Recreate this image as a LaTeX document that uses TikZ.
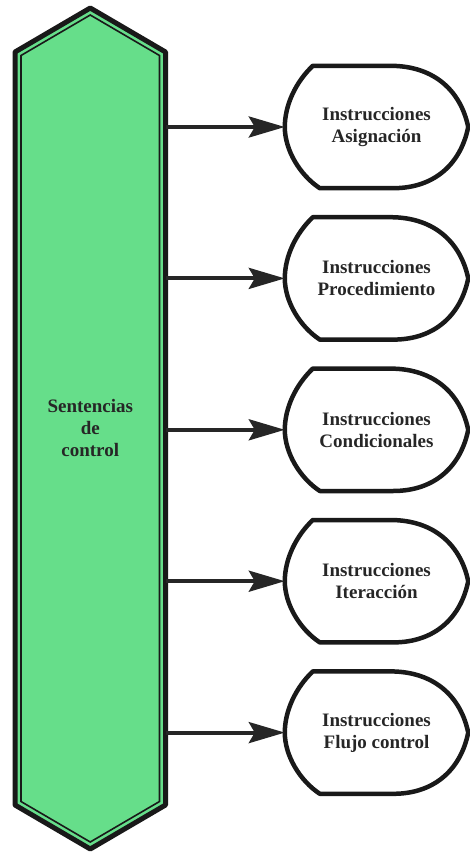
\documentclass[tikz,border=0pt]{standalone}
\usepackage{fontspec}
\setmainfont{Liberation Serif}
\usepackage{tikz}
\usetikzlibrary{positioning,arrows.meta}
\definecolor{pillargreen}{RGB}{102,222,138}

\begin{document}
\begin{tikzpicture}[x=1pt, y=-1pt,
textnode/.style={align=center, font=\fontsize{19}{22}\selectfont\bfseries, text=black!85},
instnode/.style={textnode, minimum width=183pt, minimum height=122pt, inner sep=0pt},
outline/.style={draw=black!90, line width=4.5pt, line join=round},
flow/.style={-{Stealth[length=36pt, width=21pt, inset=6pt]}, draw=black!85, line width=4pt}
]
    \useasboundingbox (0,0) rectangle (469,853);

    %Pillar
    \draw[fill=pillargreen, draw=black!90, line width=5pt, line join=round]
        (15,52) -- (90.25,8) -- (165.5,52) -- (165.5,805) -- (90.25,849) -- (15,805) -- cycle;
    \draw[draw=black!90, line width=1.6pt]
        (21,55.5) -- (90.25,15) -- (159.5,55.5) -- (159.5,801.5) -- (90.25,842) -- (21,801.5) -- cycle;

    %Nodes
    \node[textnode, minimum width=150.5pt]
        (sc) at (90.25,428)     {Sentencias\\de\\control};
    \node[instnode]
        (i1) at (376.5,127)     {Instrucciones\\Asignación};
    \node[instnode]
        (i2) [below=29pt of i1] {Instrucciones\\Procedimiento};
    \node[instnode]
        (i3) [below=29pt of i2] {Instrucciones\\Condicionales};
    \node[instnode]
        (i4) [below=29pt of i3] {Instrucciones\\Iteracción};
    \node[instnode]
        (i5) [below=29pt of i4] {Instrucciones\\Flujo control};

    %Outlines
    \foreach \n in {i1,i2,i3,i4,i5}
        \draw[outline] ([xshift=28pt]\n.north west) -- ([xshift=-78pt]\n.north east)
            .. controls ([xshift=-32pt]\n.north east) and ([xshift=-7pt,yshift=34pt]\n.east) .. (\n.east)
            .. controls ([xshift=-7pt,yshift=-35pt]\n.east) and ([xshift=-32pt]\n.south east) .. ([xshift=-75pt]\n.south east)
            -- ([xshift=35pt]\n.south west)
            .. controls ([xshift=15pt,yshift=-48pt]\n.west) and ([yshift=-23pt]\n.west) .. (\n.west)
            .. controls ([yshift=22pt]\n.west) and ([xshift=11pt,yshift=45pt]\n.west) .. cycle;

    %Lines
    \foreach \n in {i1,i2,i3,i4,i5}
        \draw[flow] (sc.east |- \n.west) -- (\n.west);
\end{tikzpicture}
\end{document}
